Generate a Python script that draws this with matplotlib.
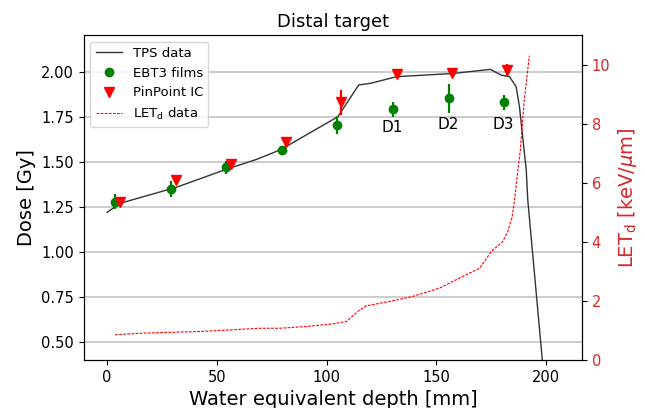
import matplotlib.pyplot as plt
import numpy as np

# TPS dose curve [mm, Gy]
tps_x = [0, 5.8, 31.6, 54.3, 68, 78.6, 80.1, 105.1, 114.6, 120.3, 131.7, 157.5, 174.5,
         179.5, 183.3, 186.3, 187.8, 190.9, 191.6, 198.2, 201]
tps_y = [1.22, 1.27, 1.36, 1.46, 1.515, 1.567, 1.577, 1.753, 1.93, 1.94, 1.976, 1.994, 2.017,
         1.985, 1.976, 1.92, 1.81, 1.456, 1.289, 0.40, 0.05]

# EBT3 films
ebt_x = [3.5, 29, 54.0, 79.8, 104.9, 130.2, 155.5, 180.7]
ebt_y = [1.28, 1.349, 1.471, 1.567, 1.707, 1.794, 1.855, 1.833]
ebt_err = [0.043, 0.045, 0.035, 0.02, 0.048, 0.042, 0.082, 0.04]

# PinPoint IC
pp_x = [5.8, 31.3, 56.3, 81.3, 106.7, 132, 157, 182.2]
pp_y = [1.28, 1.40, 1.489, 1.614, 1.833, 1.989, 1.994, 2.013]
pp_err = [0.01, 0.01, 0.01, 0.025, 0.07, 0.01, 0.01, 0.034]

# LETd [keV/um]
let_x = [3.6, 14.9, 27, 42.2, 57.3, 69.5, 78.6, 90.8, 102.9, 109, 114.2, 118, 128.7, 139.3,
         151.4, 160.5, 169.6, 175, 180.2, 182.5, 184.5, 185.6, 187.1, 188.2, 190, 192.3]
let_y = [0.85, 0.90, 0.93, 0.96, 1.02, 1.07, 1.07, 1.13, 1.22, 1.30, 1.64, 1.83, 1.98, 2.15,
         2.43, 2.77, 3.1, 3.67, 4.01, 4.35, 4.86, 5.42, 6.44, 7.1, 8.8, 10.3]

# etiquetas de los puntos
d_labels = ['D1', 'D2', 'D3']
d_x = [130, 155.2, 180.6]
d_y = [1.694, 1.707, 1.707]

fig = plt.figure(figsize=(6.45, 4.08), dpi=100)
ax1 = fig.add_axes([0.130, 0.118, 0.772, 0.796])
ax2 = ax1.twinx()

l_tps, = ax1.plot(tps_x, tps_y, color='#333333', lw=1.0, label='TPS data')
eb1 = ax1.errorbar(ebt_x, ebt_y, yerr=ebt_err, fmt='o', color='green', ms=6,
                   elinewidth=1.6, capsize=0, label='EBT3 films')
eb2 = ax1.errorbar(pp_x, pp_y, yerr=pp_err, fmt='v', color='red', ms=7,
                   elinewidth=1.6, capsize=0, label='PinPoint IC')
for lab, x, y in zip(d_labels, d_x, d_y):
    ax1.text(x, y, lab, ha='center', va='center', fontsize=11)

l_let, = ax2.plot(let_x, let_y, color='red', lw=0.8, ls='--', dashes=(2.5, 1.2),
                  label='LET$_\\mathrm{d}$ data')

ax1.set_xlim(-10.6, 216.2)
ax1.set_ylim(0.398, 2.208)
ax2.set_ylim(0, 11.0)
ax1.set_yticks([0.5, 0.75, 1.0, 1.25, 1.5, 1.75, 2.0])
ax2.set_yticks([0, 2, 4, 6, 8, 10])

ax1.grid(True, axis='y', color='#c8c8c8', lw=1.3)
ax1.set_axisbelow(True)

ax1.set_title('Distal target', fontsize=13)
ax1.set_xlabel('Water equivalent depth [mm]', fontsize=14)
ax1.set_ylabel('Dose [Gy]', fontsize=14)
ax2.set_ylabel('LET$_\\mathrm{d}$ [keV/$\\mu$m]', fontsize=14, color='tab:red')
ax1.tick_params(labelsize=10.5)
ax2.tick_params(labelsize=10.5, labelcolor='tab:red')

ax2.legend([l_tps, eb1[0], eb2[0], l_let],
           ['TPS data', 'EBT3 films', 'PinPoint IC', 'LET$_\\mathrm{d}$ data'],
           loc='upper left', fontsize=9.5)

fig.savefig('out.png', dpi=100)
